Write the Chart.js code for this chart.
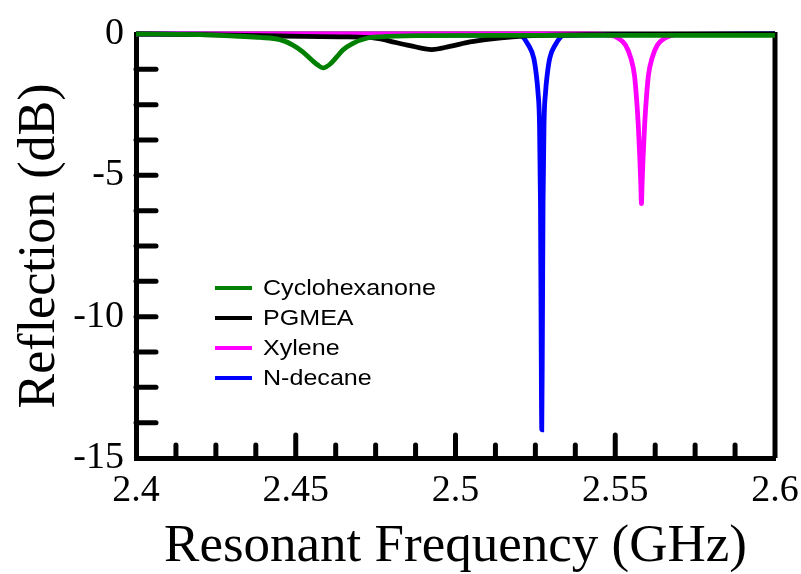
<!DOCTYPE html>
<html>
<head>
<meta charset="utf-8">
<script src="https://cdn.jsdelivr.net/npm/chart.js@4.4.1/dist/chart.umd.min.js"></script>
<style>
  html, body { margin: 0; padding: 0; background: #fff; }
  #wrap { width: 801px; height: 574px; }
</style>
</head>
<body>
<div id="wrap"><canvas id="c" width="801" height="574"></canvas></div>
<script>
// ---------- data ----------
const seriesNames = ['Cyclohexanone', 'PGMEA', 'Xylene', 'N-decane'];
const xTickLabels = [2.4, 2.45, 2.5, 2.55, 2.6];
const yTickLabels = [0, -5, -10, -15];

const cycloFreq = [2.4, 2.42, 2.4325, 2.4388, 2.445, 2.4491, 2.4522, 2.455, 2.4569, 2.4585, 2.4607, 2.4629, 2.4647, 2.4679, 2.4722, 2.4763, 2.4888, 2.5138, 2.6];
const cycloRefl = [0, -0.02, -0.08, -0.12, -0.2, -0.39, -0.63, -0.92, -1.1, -1.2, -1.07, -0.8, -0.57, -0.33, -0.15, -0.1, -0.06, -0.05, -0.05];

const pgmeaFreq = [2.4, 2.42, 2.445, 2.4638, 2.4754, 2.4794, 2.4857, 2.4926, 2.4982, 2.5045, 2.5107, 2.5179, 2.5263, 2.5451, 2.6];
const pgmeaRefl = [0, -0.02, -0.07, -0.1, -0.15, -0.25, -0.41, -0.55, -0.44, -0.28, -0.18, -0.1, -0.05, -0.02, 0];

const xyleneFreq = [2.4, 2.54, 2.5488, 2.5509, 2.5532, 2.5549, 2.556, 2.5565, 2.5572, 2.5577, 2.558, 2.5582, 2.5584, 2.5587, 2.5592, 2.5599, 2.5604, 2.5615, 2.5632, 2.5655, 2.5676, 2.57];
const xyleneRefl = [0, 0, -0.05, -0.15, -0.39, -0.86, -1.45, -2.04, -3.2, -4.4, -5.3, -6.0, -5.3, -4.4, -3.2, -2.04, -1.45, -0.86, -0.39, -0.15, -0.05, 0];

const decaneFreq = [2.4, 2.49, 2.5201, 2.5228, 2.5245, 2.5253, 2.5258, 2.5263, 2.5266, 2.5268, 2.527, 2.5272, 2.5274, 2.5277, 2.5282, 2.5287, 2.5295, 2.5312, 2.5339, 2.56, 2.6];
const decaneRefl = [0, -0.03, -0.05, -0.39, -0.86, -1.45, -2.04, -3.2, -6.0, -10.5, -14.0, -10.5, -6.0, -3.2, -2.04, -1.45, -0.86, -0.39, -0.05, -0.02, 0];

const seriesColors = ['#008000', '#000000', '#ff00ff', '#0000ff'];
// ---------------------------------------------------

const toPts = (xs, ys) => xs.map((x, i) => ({ x: x, y: ys[i] }));
const allSeries = [
  toPts(cycloFreq, cycloRefl),
  toPts(pgmeaFreq, pgmeaRefl),
  toPts(xyleneFreq, xyleneRefl),
  toPts(decaneFreq, decaneRefl)
];

const serif = "'Liberation Serif', 'Times New Roman', serif";
const sans = "'Liberation Sans', Arial, sans-serif";

function seg(ctx, x1, y1, x2, y2) {
  ctx.beginPath(); ctx.moveTo(x1, y1); ctx.lineTo(x2, y2); ctx.stroke();
}

const frame = {
  id: 'frame',
  beforeDatasetsDraw(chart) {
    const { ctx, chartArea: a } = chart;
    ctx.save();
    ctx.strokeStyle = '#000';
    ctx.lineWidth = 3;
    seg(ctx, a.left, a.top - 1, a.right, a.top - 1);
    ctx.lineWidth = 5;
    seg(ctx, a.right, a.top - 2, a.right, a.bottom);
    ctx.restore();
  },
  afterDatasetsDraw(chart) {
    const { ctx, chartArea: a, scales: { x, y } } = chart;
    ctx.save();
    ctx.strokeStyle = '#000';
    ctx.lineCap = 'round';
    ctx.lineWidth = 5;
    const xStep = (xTickLabels[1] - xTickLabels[0]) / 4;
    const nx = Math.round((xTickLabels[xTickLabels.length - 1] - xTickLabels[0]) / xStep);
    for (let i = 1; i < nx; i++) {
      const px = x.getPixelForValue(xTickLabels[0] + i * xStep);
      const len = (i % 4 === 0) ? 23 : 13;
      seg(ctx, px, a.bottom, px, a.bottom - len);
    }
    const yStep = (yTickLabels[0] - yTickLabels[1]) / 4;
    const ny = Math.round((yTickLabels[0] - yTickLabels[yTickLabels.length - 1]) / yStep);
    for (let i = 1; i < ny; i++) {
      const py = y.getPixelForValue(yTickLabels[0] - i * yStep);
      seg(ctx, a.left, py, a.left + 20, py);
    }
    // legend
    ctx.lineCap = 'butt';
    chart.data.datasets.forEach((ds, i) => {
      const ly = 288 + 30 * i;
      ctx.strokeStyle = ds.borderColor;
      ctx.lineWidth = 4;
      seg(ctx, 215, ly, 252, ly);
      ctx.save();
      ctx.translate(263, ly);
      ctx.scale(1.14, 1);
      ctx.fillStyle = '#000';
      ctx.font = '22px ' + sans;
      ctx.textBaseline = 'middle';
      ctx.textAlign = 'left';
      ctx.fillText(ds.label, 0, 1);
      ctx.restore();
    });
    ctx.restore();
  }
};

new Chart(document.getElementById('c'), {
  type: 'line',
  data: {
    datasets: allSeries.map((pts, i) => ({
      label: seriesNames[i],
      data: pts,
      borderColor: seriesColors[i],
      backgroundColor: seriesColors[i],
      borderWidth: 4.8,
      pointRadius: 0,
      fill: false,
      cubicInterpolationMode: 'monotone',
      clip: false
    }))
  },
  options: {
    responsive: false,
    animation: false,
    devicePixelRatio: 1,
    layout: { padding: { left: 5, top: 34, right: 26, bottom: 0 } },
    plugins: { legend: { display: false }, tooltip: { enabled: false } },
    scales: {
      x: {
        type: 'linear',
        min: xTickLabels[0],
        max: xTickLabels[xTickLabels.length - 1],
        afterBuildTicks: s => { s.ticks = xTickLabels.map(v => ({ value: v })); },
        afterFit: s => { s.height = 116; s.paddingLeft = 0; s.paddingRight = 0; },
        grid: { display: true, drawOnChartArea: false, drawTicks: false },
        border: { display: true, color: '#000', width: 5 },
        ticks: {
          padding: 10, color: '#000', maxRotation: 0, autoSkip: false,
          font: { family: serif, size: 38 },
          callback: v => String(v)
        },
        title: {
          display: true, text: 'Resonant Frequency (GHz)', color: '#000',
          font: { family: serif, size: 53, lineHeight: 1 },
          padding: { top: 0, bottom: 0 }
        }
      },
      y: {
        min: yTickLabels[yTickLabels.length - 1],
        max: yTickLabels[0],
        afterBuildTicks: s => { s.ticks = yTickLabels.map(v => ({ value: v })); },
        afterFit: s => { s.width = 131; s.paddingTop = 0; s.paddingBottom = 0; },
        grid: { display: true, drawOnChartArea: false, drawTicks: false },
        border: { display: true, color: '#000', width: 5 },
        ticks: {
          padding: 12, color: '#000',
          font: { family: serif, size: 38 },
          callback: v => String(v)
        },
        title: {
          display: true, text: 'Reflection (dB)', color: '#000',
          font: { family: serif, size: 52, lineHeight: 1.2 },
          padding: { top: 4, bottom: 0 }
        }
      }
    }
  },
  plugins: [frame]
});
</script>
</body>
</html>
